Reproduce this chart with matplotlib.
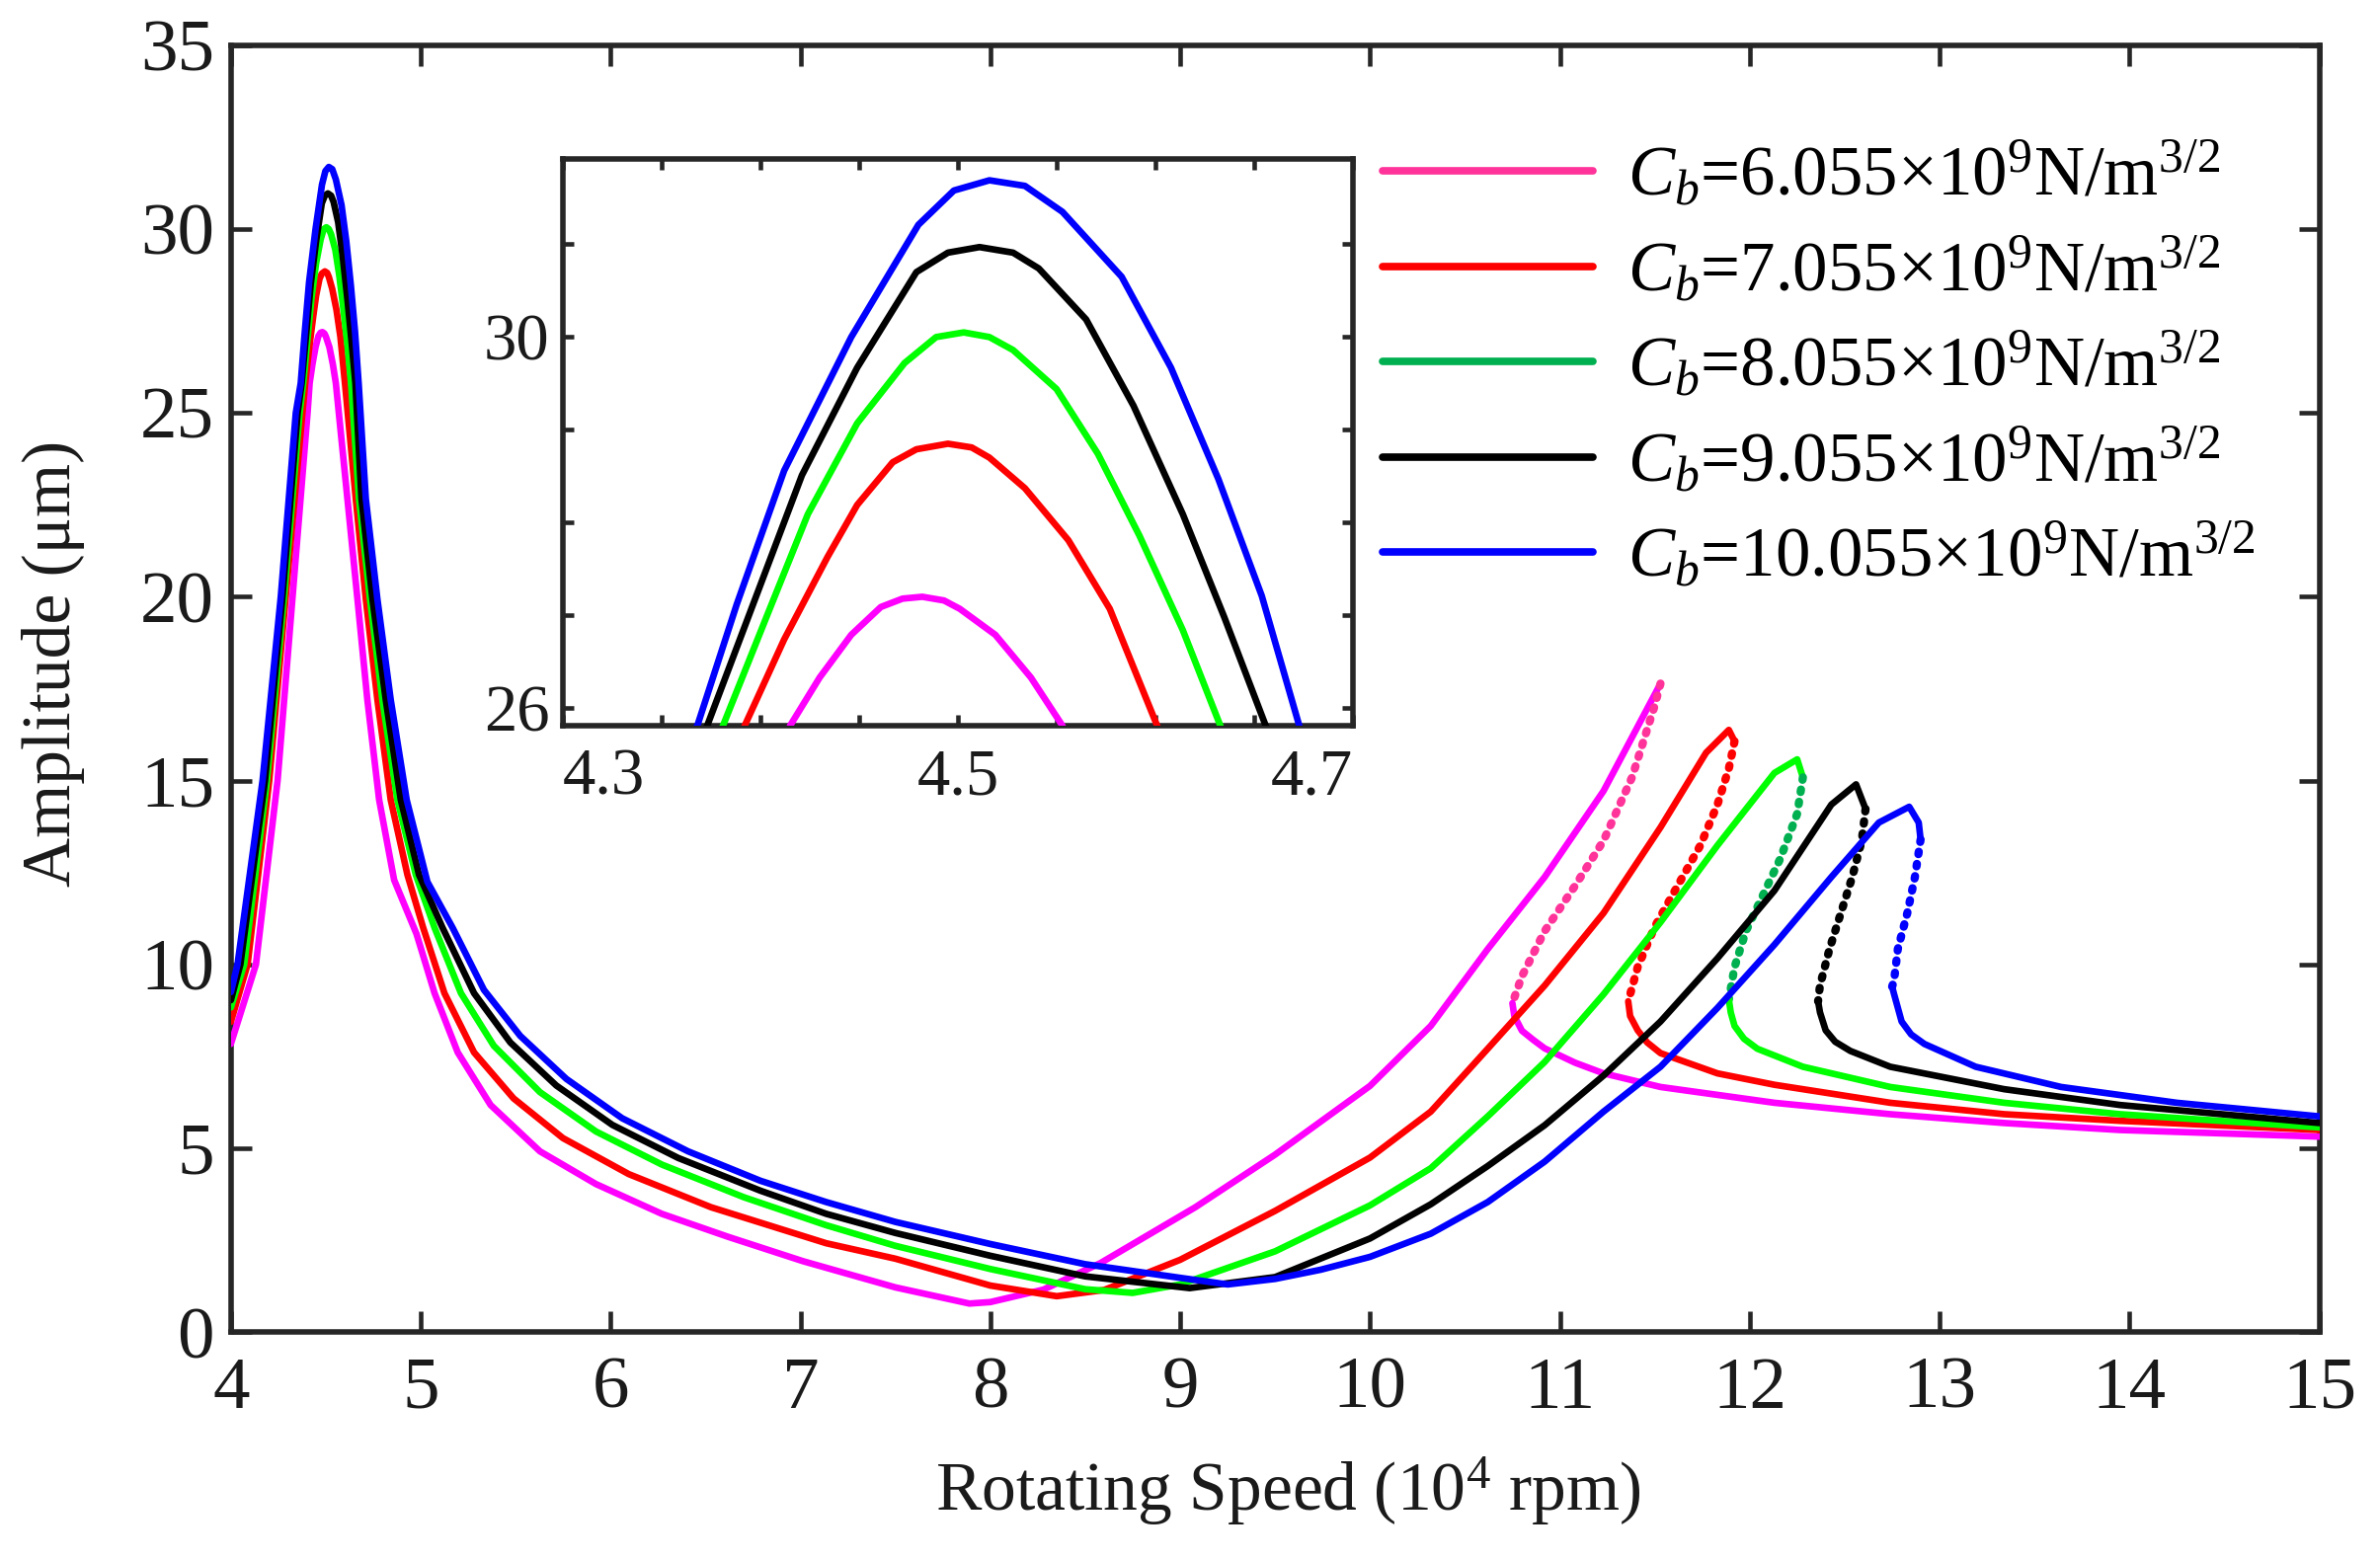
import matplotlib
matplotlib.use("Agg")
import matplotlib.pyplot as plt
from matplotlib.lines import Line2D
import numpy as np

plt.rcParams['font.family'] = ['Liberation Serif', 'DejaVu Serif']
plt.rcParams['mathtext.fontset'] = 'custom'
plt.rcParams['mathtext.rm'] = 'Liberation Serif'
plt.rcParams['mathtext.it'] = 'Liberation Serif:italic'

# ---- data (speed in 1e4 rpm, amplitude in um) ----
labels = ["6.055", "7.055", "8.055", "9.055", "10.055"]
solid_colors = ["#FF00FF", "#FF0000", "#00FF00", "#000000", "#0000FF"]
dot_colors = ["#FF3399", "#FF0000", "#00B050", "#000000", "#0000FF"]

# Cb = 6.055 : upper stable branch, unstable (dotted) branch, lower stable branch
up1_x = [4.00, 4.132, 4.246, 4.325, 4.404, 4.415, 4.430, 4.446, 4.461, 4.472, 4.482, 4.493,
         4.501, 4.519, 4.537, 4.553, 4.614, 4.667, 4.719, 4.781, 4.86, 4.978, 5.073, 5.195,
         5.368, 5.628, 5.923, 6.27, 6.616, 7.015, 7.5, 7.89, 8.0, 8.28, 8.58, 9.08,
         9.5, 10.0, 10.32, 10.62, 10.92, 11.23, 11.53]
up1_y = [7.84, 10.0, 15.0, 20.0, 25.0, 25.81, 26.33, 26.79, 27.09, 27.18, 27.2, 27.16,
         27.07, 26.79, 26.33, 25.81, 22.66, 19.93, 17.2, 14.48, 12.3, 10.83, 9.22, 7.61,
         6.18, 4.92, 4.03, 3.22, 2.60, 1.93, 1.22, 0.78, 0.82, 1.16, 1.88, 3.4,
         4.83, 6.7, 8.33, 10.42, 12.38, 14.72, 17.64]
mid1_x = [11.53, 11.50, 11.38, 11.23, 11.08, 10.92, 10.80, 10.75]
mid1_y = [17.64, 17.05, 15.09, 13.37, 12.14, 10.91, 9.68, 8.95]
low1_x = [10.75, 10.76, 10.80, 10.86, 10.92, 11.08, 11.23, 11.53, 12.13, 12.74, 13.34, 13.95, 15.0]
low1_y = [8.95, 8.6, 8.2, 7.95, 7.72, 7.33, 7.04, 6.67, 6.24, 5.93, 5.69, 5.5, 5.32]

# Cb = 7.055
up2_x = [4.00, 4.088, 4.202, 4.289, 4.377, 4.392, 4.412, 4.434, 4.449, 4.467, 4.479, 4.495,
         4.507, 4.516, 4.534, 4.556, 4.577, 4.601, 4.658, 4.711, 4.772, 4.842, 4.93, 5.013,
         5.125, 5.281, 5.489, 5.749, 6.096, 6.529, 7.136, 7.5, 8.0, 8.35, 8.6, 9.0, 9.5,
         10.0, 10.32, 10.62, 10.92, 11.23, 11.53, 11.77, 11.89, 11.92]
up2_y = [8.44, 10.0, 15.0, 20.0, 25.0, 25.81, 26.74, 27.63, 28.19, 28.65, 28.79, 28.85,
         28.81, 28.7, 28.37, 27.81, 27.07, 25.81, 22.66, 19.93, 17.2, 14.48, 12.44, 11.0,
         9.22, 7.61, 6.36, 5.28, 4.30, 3.40, 2.42, 2.0, 1.27, 0.98, 1.15, 1.97, 3.3,
         4.75, 6.0, 7.71, 9.43, 11.4, 13.73, 15.76, 16.38, 16.07]
mid2_x = [11.92, 11.89, 11.83, 11.74, 11.62, 11.50, 11.41, 11.36]
mid2_y = [16.07, 15.33, 14.35, 13.24, 12.14, 11.03, 9.93, 9.0]
low2_x = [11.36, 11.37, 11.41, 11.46, 11.53, 11.83, 12.13, 12.74, 13.34, 13.95, 15.0]
low2_y = [9.0, 8.6, 8.21, 7.88, 7.59, 7.04, 6.73, 6.24, 5.93, 5.75, 5.5]

# Cb = 8.055
up3_x = [4.00, 4.07, 4.19, 4.28, 4.362, 4.381, 4.403, 4.424, 4.449, 4.473, 4.489, 4.503,
         4.516, 4.528, 4.55, 4.571, 4.592, 4.614, 4.633, 4.675, 4.733, 4.798, 4.877, 4.974,
         5.073, 5.212, 5.385, 5.628, 5.923, 6.27, 6.703, 7.136, 7.5, 8.0, 8.5, 8.75, 9.0,
         9.5, 10.0, 10.32, 10.62, 10.92, 11.23, 11.53, 11.83, 12.13, 12.25, 12.28]
up3_y = [8.83, 10.0, 15.0, 20.0, 25.0, 25.81, 26.98, 28.09, 29.07, 29.72, 30.0, 30.05,
         30.0, 29.86, 29.44, 28.74, 27.86, 26.84, 25.81, 22.66, 19.93, 17.2, 14.48, 12.44,
         11.0, 9.22, 7.79, 6.53, 5.46, 4.56, 3.67, 2.91, 2.35, 1.72, 1.17, 1.07, 1.3,
         2.2, 3.45, 4.46, 5.87, 7.35, 9.19, 11.15, 13.24, 15.21, 15.58, 15.09]
mid3_x = [12.28, 12.25, 12.16, 12.07, 11.98, 11.92, 11.89]
mid3_y = [15.09, 14.1, 12.87, 11.89, 10.91, 9.93, 9.05]
low3_x = [11.89, 11.90, 11.92, 11.97, 12.04, 12.28, 12.74, 13.34, 13.95, 15.0]
low3_y = [9.05, 8.7, 8.33, 7.98, 7.71, 7.22, 6.67, 6.24, 5.93, 5.57]

# Cb = 9.055
up4_x = [4.00, 4.05, 4.18, 4.272, 4.352, 4.373, 4.397, 4.421, 4.449, 4.479, 4.495, 4.511,
         4.528, 4.541, 4.565, 4.589, 4.614, 4.635, 4.656, 4.688, 4.746, 4.816, 4.895, 4.991,
         5.115, 5.281, 5.472, 5.714, 6.009, 6.356, 6.789, 7.136, 7.5, 8.0, 8.5, 9.05, 9.5,
         10.0, 10.32, 10.62, 10.92, 11.23, 11.53, 11.83, 12.13, 12.43, 12.56, 12.61]
up4_y = [9.03, 10.0, 15.0, 20.0, 25.0, 25.81, 27.16, 28.51, 29.67, 30.7, 30.91, 30.97,
         30.91, 30.74, 30.19, 29.26, 28.09, 26.98, 25.81, 22.66, 19.93, 17.2, 14.48, 12.44,
         11.0, 9.22, 7.88, 6.71, 5.64, 4.74, 3.85, 3.22, 2.7, 2.08, 1.52, 1.2, 1.5,
         2.55, 3.48, 4.52, 5.63, 6.98, 8.45, 10.17, 12.01, 14.35, 14.9, 14.23]
mid4_x = [12.61, 12.59, 12.54, 12.48, 12.42, 12.37, 12.36]
mid4_y = [14.23, 13.37, 12.38, 11.4, 10.42, 9.43, 9.0]
low4_x = [12.36, 12.37, 12.40, 12.45, 12.53, 12.74, 13.34, 13.95, 15.0]
low4_y = [9.0, 8.7, 8.21, 7.9, 7.65, 7.22, 6.61, 6.18, 5.69]

# Cb = 10.055
up5_x = [4.00, 4.035, 4.167, 4.263, 4.342, 4.368, 4.388, 4.412, 4.446, 4.48, 4.498, 4.516,
         4.534, 4.553, 4.583, 4.608, 4.632, 4.654, 4.673, 4.711, 4.772, 4.842, 4.926, 5.035,
         5.168, 5.333, 5.524, 5.767, 6.061, 6.408, 6.789, 7.136, 7.5, 8.0, 8.5, 9.0, 9.25,
         9.5, 9.74, 10.0, 10.32, 10.62, 10.92, 11.23, 11.53, 11.83, 12.13, 12.43, 12.68,
         12.84, 12.89, 12.90]
up5_y = [9.25, 10.0, 15.0, 20.0, 25.0, 25.81, 27.12, 28.56, 30.0, 31.21, 31.58, 31.69,
         31.63, 31.35, 30.65, 29.67, 28.47, 27.21, 25.81, 22.66, 19.93, 17.2, 14.48, 12.25,
         11.0, 9.31, 8.06, 6.89, 5.82, 4.92, 4.12, 3.54, 3.0, 2.4, 1.85, 1.48, 1.3,
         1.45, 1.70, 2.05, 2.68, 3.54, 4.64, 6.0, 7.22, 8.82, 10.54, 12.38, 13.86,
         14.29, 13.86, 13.4]
mid5_x = [12.90, 12.87, 12.83, 12.78, 12.76, 12.75]
mid5_y = [13.4, 12.38, 11.4, 10.42, 9.56, 9.4]
low5_x = [12.75, 12.76, 12.80, 12.85, 12.92, 13.19, 13.64, 14.25, 15.0]
low5_y = [9.4, 9.2, 8.45, 8.1, 7.84, 7.22, 6.67, 6.24, 5.87]

upper = [(up1_x, up1_y), (up2_x, up2_y), (up3_x, up3_y), (up4_x, up4_y), (up5_x, up5_y)]
middle = [(mid1_x, mid1_y), (mid2_x, mid2_y), (mid3_x, mid3_y), (mid4_x, mid4_y), (mid5_x, mid5_y)]
lower = [(low1_x, low1_y), (low2_x, low2_y), (low3_x, low3_y), (low4_x, low4_y), (low5_x, low5_y)]

spine_c = "#262626"
lw = 4.8

fig = plt.figure(figsize=(24.1, 15.8), dpi=100)
ax = fig.add_axes([0.097, 0.146, 0.8775, 0.825])

for i in range(5):
    ax.plot(*upper[i], '-', color=solid_colors[i], lw=lw, solid_capstyle='round',
            solid_joinstyle='round', zorder=3)
    ax.plot(*middle[i], linestyle=(0, (0.3, 1.2)), color=dot_colors[i], lw=lw * 1.25,
            dash_capstyle='round', zorder=3)
    ax.plot(*lower[i], '-', color=solid_colors[i], lw=lw, solid_capstyle='round',
            solid_joinstyle='round', zorder=3)

ax.set_xlim(4, 15)
ax.set_ylim(0, 35)
ax.set_xticks(np.arange(4, 16, 1))
ax.set_yticks(np.arange(0, 36, 5))
ax.tick_params(direction='in', length=15, width=3.3, color=spine_c, labelsize=54,
               top=True, right=True, labelcolor='#1a1a1a')
ax.tick_params(axis='y', pad=12)
ax.tick_params(axis='x', pad=18)
for s in ax.spines.values():
    s.set_linewidth(4)
    s.set_color(spine_c)

ax.set_xlabel(r"Rotating Speed (10$^4$ rpm)", fontsize=50, color='#1a1a1a')
ax.set_ylabel("Amplitude (\u03bcm)", fontsize=50, color='#1a1a1a')
ax.xaxis.set_label_coords(0.506, -0.095)
ax.yaxis.set_label_coords(-0.070, 0.52)

handles = [Line2D([], [], color=c, lw=lw * 1.15, solid_capstyle='round') for c in dot_colors]
leg_labels = [r"$C_b$=%s$\times$10$^9$N/m$^{3/2}$" % v for v in labels]
leg = ax.legend(handles, leg_labels, loc='upper left', bbox_to_anchor=(0.581, 0.910),
                bbox_transform=fig.transFigure, frameon=False, fontsize=51,
                handlelength=3.0, handletextpad=0.5, labelspacing=0.36,
                borderpad=0, borderaxespad=0)

# ---- inset zoom on the first peak ----
axi = fig.add_axes([0.2366, 0.5348, 0.3317, 0.3633])
for i in range(5):
    axi.plot(*upper[i], '-', color=solid_colors[i], lw=lw, solid_joinstyle='round', zorder=3)
axi.set_xlim(4.3, 4.7)
axi.set_ylim(25.81, 31.92)
xt = np.round(np.arange(4.3, 4.7001, 0.05), 2)
axi.set_xticks(xt)
axi.set_xticklabels(["4.3", "", "", "", "4.5", "", "", "", "4.7"])
axi.set_yticks([26, 27, 28, 29, 30, 31])
axi.set_yticklabels(["26", "", "", "", "30", ""])
axi.tick_params(direction='in', length=8, width=3.3, color=spine_c, labelsize=48,
                top=True, right=True, labelcolor='#1a1a1a')
axi.tick_params(axis='y', pad=10)
axi.tick_params(axis='x', pad=16)
xl = axi.get_xticklabels()
xl[0].set_horizontalalignment('left')
xl[-1].set_horizontalalignment('right')
for s in axi.spines.values():
    s.set_linewidth(4)
    s.set_color(spine_c)

fig.savefig("out.png", dpi=100)
